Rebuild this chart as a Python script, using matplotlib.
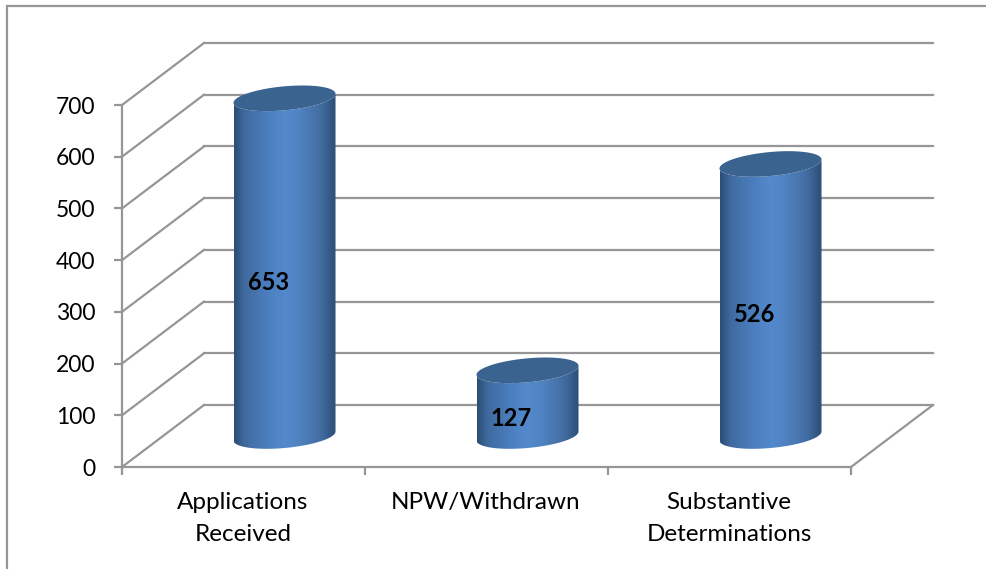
#!/usr/bin/env python3

import matplotlib.pyplot as plt
import numpy as np
from matplotlib.patches import Polygon, Rectangle

categories = ["Applications\nReceived", "NPW/Withdrawn", "Substantive\nDeterminations"]
values = [653, 127, 526]
y_ticks = [0, 100, 200, 300, 400, 500, 600, 700]

W, H = 987, 569
plt.rcParams["font.family"] = ["Lato", "DejaVu Sans"]

# front plane of the fake 3d box, in pixels
left, right, y0, y700 = 122, 851, 467, 105
px_x = (right - left) / 3
px_y = (y0 - y700) / 700
# depth of the box and cylinder sizes, converted to data units
dx = 82 / px_x
dy = 62 / px_y
a = 51 / px_x
b = 12 / px_y
k = 4.5 / px_y

grey = "#969696"
lw = 1.6

fig = plt.figure(figsize=(W / 100, H / 100), dpi=100)
ax = fig.add_axes([left / W, 1 - y0 / H, (right - left) / W, (y0 - y700) / H])
for s in ["top", "right"]:
    ax.spines[s].set_visible(False)
for s in ["left", "bottom"]:
    ax.spines[s].set_color(grey)
    ax.spines[s].set_linewidth(lw)

ax.set_yticks(y_ticks)
ax.set_xticks([0, 1, 2, 3])
ax.set_xticklabels([])
ax.tick_params(axis="both", color=grey, width=lw, length=6, labelsize=16.5, labelcolor="black")
ax.tick_params(axis="y", pad=13)

# walls: side lines and back gridlines
for v in y_ticks:
    ax.plot([0, dx], [v, v + dy], color=grey, lw=lw, clip_on=False, zorder=1)
    ax.plot([dx, 3 + dx], [v + dy, v + dy], color=grey, lw=lw, clip_on=False, zorder=1)
ax.plot([3, 3 + dx], [0, dy], color=grey, lw=lw, clip_on=False, zorder=1)

# horizontal shading of the cylinder side
stops = np.array([0.0, 0.1, 0.3, 0.5, 0.65, 0.85, 1.0])
shades = np.array([
    [0x2c, 0x4d, 0x75],
    [0x3f, 0x6a, 0x9e],
    [0x4a, 0x7c, 0xbb],
    [0x53, 0x8a, 0xcd],
    [0x4f, 0x82, 0xc0],
    [0x43, 0x6e, 0xa3],
    [0x2d, 0x4e, 0x77],
]) / 255
xs = np.linspace(0, 1, 128)
grad = np.stack([np.interp(xs, stops, shades[:, i]) for i in range(3)], axis=1)[None, :, :]

t_low = np.linspace(np.pi, 2 * np.pi, 80)
t_all = np.linspace(0, 2 * np.pi, 160)


def ellipse(cx, cy, t):
    return np.column_stack([cx + a * np.cos(t), cy + k * np.cos(t) + b * np.sin(t)])


for i, v in enumerate(values):
    cx = i + 0.5 + dx / 2
    base = dy / 2
    top = v + dy / 2
    lower = ellipse(cx, base, t_low)
    upper = ellipse(cx, top, t_low)[::-1]
    body = Polygon(np.vstack([lower, upper]), closed=True, transform=ax.transData, fc="none", ec="none", clip_on=False)
    ax.add_patch(body)
    im = ax.imshow(grad, extent=[cx - a, cx + a, 0, 800], aspect="auto", zorder=3)
    im.set_clip_box(fig.bbox)
    im.set_clip_path(body)
    ax.add_patch(Polygon(ellipse(cx, top, t_all), closed=True, fc="#3a638f", ec="none", zorder=4, clip_on=False))
    ax.text(cx - 16 / px_x, v / 2 + dy / 2 - 29, str(v), ha="center", va="center",
            fontsize=17, fontweight="bold", color="black", zorder=5)

ax.set_xlim(0, 3)
ax.set_ylim(0, 700)

# category labels
label_x = [243, 486, 729]
for x, name in zip(label_x, categories):
    fig.text(x / W, 1 - 492 / H, name, ha="center", va="top", fontsize=17.5, linespacing=1.62)

# chart border
fig.add_artist(Rectangle((7 / W, -0.01), 1.2, 1.0 - 6 / H + 0.01, transform=fig.transFigure, fc="none", ec=grey, lw=lw))

fig.savefig("out.png", dpi=100)
